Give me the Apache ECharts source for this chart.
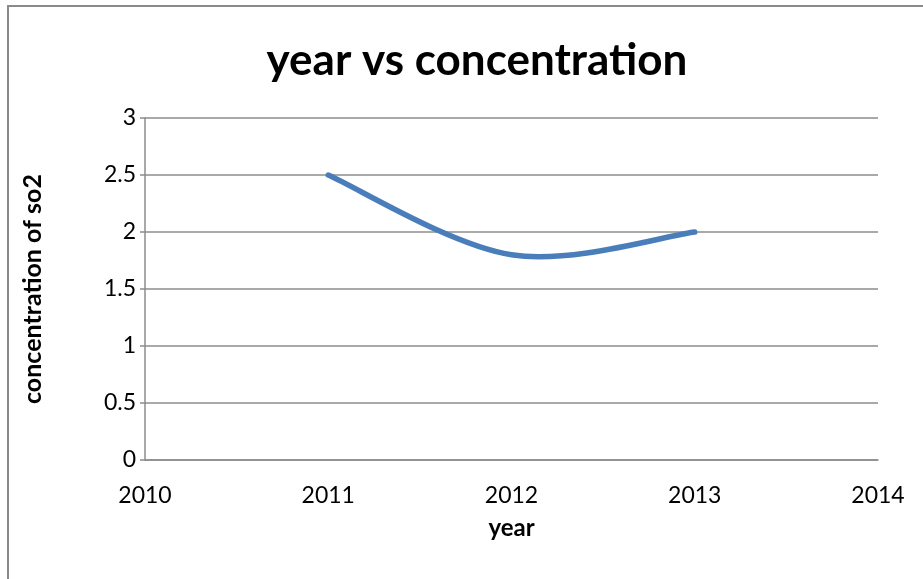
<!DOCTYPE html>
<html>
<head>
<meta charset="utf-8">
<script src="https://cdn.jsdelivr.net/npm/echarts@6/dist/echarts.min.js"></script>
<style>
  html, body { margin: 0; padding: 0; background: #fff; }
  #chart { width: 923px; height: 579px; }
</style>
</head>
<body>
<div id="chart"></div>
<script>
// SO2 concentration by year
const years = [2011, 2012, 2013];
const concentration = [2.5, 1.8, 2.0];
const xTicks = [2010, 2011, 2012, 2013, 2014];
const yTicks = [0, 0.5, 1, 1.5, 2, 2.5, 3];

const font = 'Lato, "Open Sans", sans-serif';
const gridColor = '#8c8c8c';
const lineColor = '#4a7ebb';

// Smoothed line through the data points: Catmull-Rom segments turned into
// cubic Bezier curves, with pixel positions taken from the chart's own axes.
function renderSmoothLine(params, api) {
  if (params.dataIndex !== 0) return null;
  const pts = years.map((y, i) => api.coord([y, concentration[i]]));
  const n = pts.length;
  let d = 'M' + pts[0][0] + ',' + pts[0][1];
  for (let i = 0; i < n - 1; i++) {
    const p0 = pts[Math.max(i - 1, 0)];
    const p1 = pts[i];
    const p2 = pts[i + 1];
    const p3 = pts[Math.min(i + 2, n - 1)];
    const c1x = p1[0] + (p2[0] - p0[0]) / 6;
    const c1y = p1[1] + (p2[1] - p0[1]) / 6;
    const c2x = p2[0] - (p3[0] - p1[0]) / 6;
    const c2y = p2[1] - (p3[1] - p1[1]) / 6;
    d += ' C' + c1x + ',' + c1y + ' ' + c2x + ',' + c2y + ' ' + p2[0] + ',' + p2[1];
  }
  return {
    type: 'path',
    shape: { pathData: d },
    style: { fill: 'none', stroke: lineColor, lineWidth: 5.5, lineCap: 'round', lineJoin: 'round' }
  };
}

const chart = echarts.init(document.getElementById('chart'), null, { renderer: 'canvas' });
chart.setOption({
  backgroundColor: '#ffffff',
  animation: false,
  graphic: [{
    type: 'rect',
    shape: { x: 8, y: 6, width: 1000, height: 1000 },
    style: { fill: 'none', stroke: '#8a8a8a', lineWidth: 2 },
    silent: true
  }],
  title: {
    text: 'year vs concentration',
    left: 472,
    textAlign: 'center',
    top: 34,
    textStyle: { fontFamily: font, fontWeight: 'bold', fontSize: 44, color: '#000' }
  },
  grid: { left: 145, right: 45, top: 118, bottom: 119 },
  xAxis: {
    type: 'value',
    min: xTicks[0],
    max: xTicks[xTicks.length - 1],
    interval: 1,
    name: 'year',
    nameLocation: 'middle',
    nameGap: 56,
    nameTextStyle: { fontFamily: font, fontWeight: 'bold', fontSize: 24, color: '#000' },
    axisLine: { show: true, lineStyle: { color: gridColor, width: 1.5 } },
    axisTick: { show: false },
    splitLine: { show: false },
    axisLabel: {
      margin: 24,
      fontFamily: font, fontSize: 23, color: '#000',
      formatter: v => String(v)
    }
  },
  yAxis: {
    type: 'value',
    min: yTicks[0],
    max: yTicks[yTicks.length - 1],
    interval: 0.5,
    name: 'concentration of so2',
    nameLocation: 'middle',
    nameGap: 100,
    nameTextStyle: { fontFamily: font, fontWeight: 'bold', fontSize: 25, color: '#000' },
    axisLine: { show: true, lineStyle: { color: gridColor, width: 1.5 } },
    axisTick: { show: true, length: 5, lineStyle: { color: gridColor, width: 1.5 } },
    splitLine: { show: true, lineStyle: { color: gridColor, width: 1.5 } },
    axisLabel: {
      margin: 9,
      fontFamily: font, fontSize: 23, color: '#000',
      formatter: v => String(v)
    }
  },
  series: [{
    type: 'custom',
    data: years.map((y, i) => [y, concentration[i]]),
    renderItem: renderSmoothLine,
    clip: true
  }]
});
</script>
</body>
</html>
